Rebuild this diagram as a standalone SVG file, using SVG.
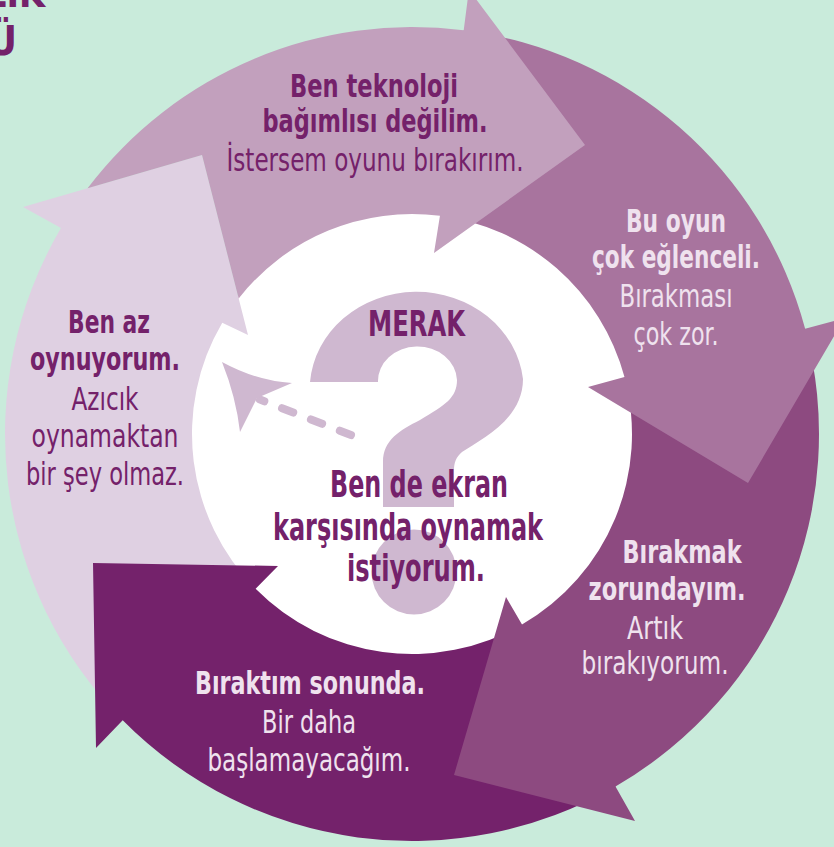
<svg xmlns="http://www.w3.org/2000/svg" width="834" height="847" viewBox="0 0 834 847">
<style>
.t{font-family:"Liberation Sans Narrow","DejaVu Sans Condensed","Liberation Sans","DejaVu Sans",sans-serif;font-stretch:condensed;text-anchor:middle}
.b{font-weight:bold}
.dk{fill:#74216a}
.lt{fill:#efe2ee}
.s{font-size:32px}
.c{font-size:38px}
.q{fill:#cfb8d0}
</style>
<rect width="834" height="847" fill="#c9ebdb"/>
<g id="heading">
<text class="t b dk" x="45" y="7" font-size="40" style="text-anchor:end" textLength="60" lengthAdjust="spacingAndGlyphs">LIK</text>
<text class="t b dk" x="17" y="55" font-size="40" style="text-anchor:end">Ü</text>
</g>
<g id="center">
<circle cx="412" cy="434" r="222" fill="#ffffff"/>
<path class="q" d="M310 382 A107 98 0 0 1 523 379 C523 420 480 440 462 452 C456 457 454 463 454 470 L454 507 L383 507 L383 462 C383 440 400 430 420 420 C445 405 457 398 457 380 A39 34 0 0 0 378 382 Z"/>
<circle class="q" cx="414" cy="572" r="42.5"/>
<text class="t b dk" x="416.5" y="335.5" font-size="36" textLength="97" lengthAdjust="spacingAndGlyphs">MERAK</text>
<text class="t b dk c" x="419" y="497" textLength="178" lengthAdjust="spacingAndGlyphs">Ben de ekran</text>
<text class="t b dk c" x="408" y="540" textLength="270" lengthAdjust="spacingAndGlyphs">karşısında oynamak</text>
<text class="t b dk c" x="416" y="581" textLength="138" lengthAdjust="spacingAndGlyphs">istiyorum.</text>
</g>
<g id="connectors">
<path d="M351 435 L260 399.6" fill="none" stroke="#cfb8d0" stroke-width="8" stroke-linecap="round" stroke-dasharray="12 19"/>
<path class="q" d="M222 362 Q257 381 292 383 L257 398 L240 432 Q236 397 222 362 Z"/>
</g>
<g id="seg5">
<path fill="#dfd0e2" d="M122.70 720.28 A407 407 0 0 1 60.96 228.05 L23 207 L202 155 L248 335 L222.25 322.67 A220 220 0 0 0 255.62 588.75 Z"/>
<text class="t b dk s" x="109" y="333" textLength="82" lengthAdjust="spacingAndGlyphs">Ben az</text>
<text class="t b dk s" x="105" y="370" textLength="150" lengthAdjust="spacingAndGlyphs">oynuyorum.</text>
<text class="t dk s" x="105" y="410" textLength="67" lengthAdjust="spacingAndGlyphs">Azıcık</text>
<text class="t dk s" x="105" y="447" textLength="147" lengthAdjust="spacingAndGlyphs">oynamaktan</text>
<text class="t dk s" x="105" y="485" textLength="158" lengthAdjust="spacingAndGlyphs">bir şey olmaz.</text>
</g>
<g id="seg4">
<path fill="#74226b" d="M615.5 786.47 A407 407 0 0 1 122.70 720.28 L96 748 L93 563 L278 566 L255.62 588.75 A220 220 0 0 0 522 624.53 Z"/>
<text class="t b lt s" x="310" y="694" textLength="230" lengthAdjust="spacingAndGlyphs">Bıraktım sonunda.</text>
<text class="t lt s" x="309" y="733" textLength="94" lengthAdjust="spacingAndGlyphs">Bir daha</text>
<text class="t lt s" x="309" y="771" textLength="203" lengthAdjust="spacingAndGlyphs">başlamayacağım.</text>
</g>
<g id="seg3">
<path fill="#8d4a80" d="M805.13 328.66 A407 407 0 0 1 615.5 786.47 L635 821 L454 775 L506 597 L522 624.53 A220 220 0 0 0 624.50 377.06 Z"/>
<text class="t b lt s" x="682" y="563" textLength="119" lengthAdjust="spacingAndGlyphs">Bırakmak</text>
<text class="t b lt s" x="667" y="600" textLength="157" lengthAdjust="spacingAndGlyphs">zorundayım.</text>
<text class="t lt s" x="655" y="639" textLength="56" lengthAdjust="spacingAndGlyphs">Artık</text>
<text class="t lt s" x="655" y="674" textLength="147" lengthAdjust="spacingAndGlyphs">bırakıyorum.</text>
</g>
<g id="seg2">
<path fill="#a8749e" d="M463.71 30.30 A407 407 0 0 1 805.13 328.66 L844.7 318 L748 483 L588 387 L624.50 377.06 A220 220 0 0 0 439.95 215.78 Z"/>
<text class="t b lt s" x="676" y="232" textLength="100" lengthAdjust="spacingAndGlyphs">Bu oyun</text>
<text class="t b lt s" x="676" y="268" textLength="168" lengthAdjust="spacingAndGlyphs">çok eğlenceli.</text>
<text class="t lt s" x="676" y="307" textLength="113" lengthAdjust="spacingAndGlyphs">Bırakması</text>
<text class="t lt s" x="676" y="345" textLength="85" lengthAdjust="spacingAndGlyphs">çok zor.</text>
</g>
<g id="seg1">
<path fill="#c2a0bd" d="M87.58 188.24 A407 407 0 0 1 463.71 30.30 L468.92 -10.37 L585 145 L434 253 L439.95 215.78 A220 220 0 0 0 238.67 298.51 L202 155 Z"/>
<text class="t b dk s" x="374" y="97" textLength="168" lengthAdjust="spacingAndGlyphs">Ben teknoloji</text>
<text class="t b dk s" x="375" y="131.5" textLength="225" lengthAdjust="spacingAndGlyphs">bağımlısı değilim.</text>
<text class="t dk s" x="375" y="171" textLength="297" lengthAdjust="spacingAndGlyphs">İstersem oyunu bırakırım.</text>
</g>
</svg>
